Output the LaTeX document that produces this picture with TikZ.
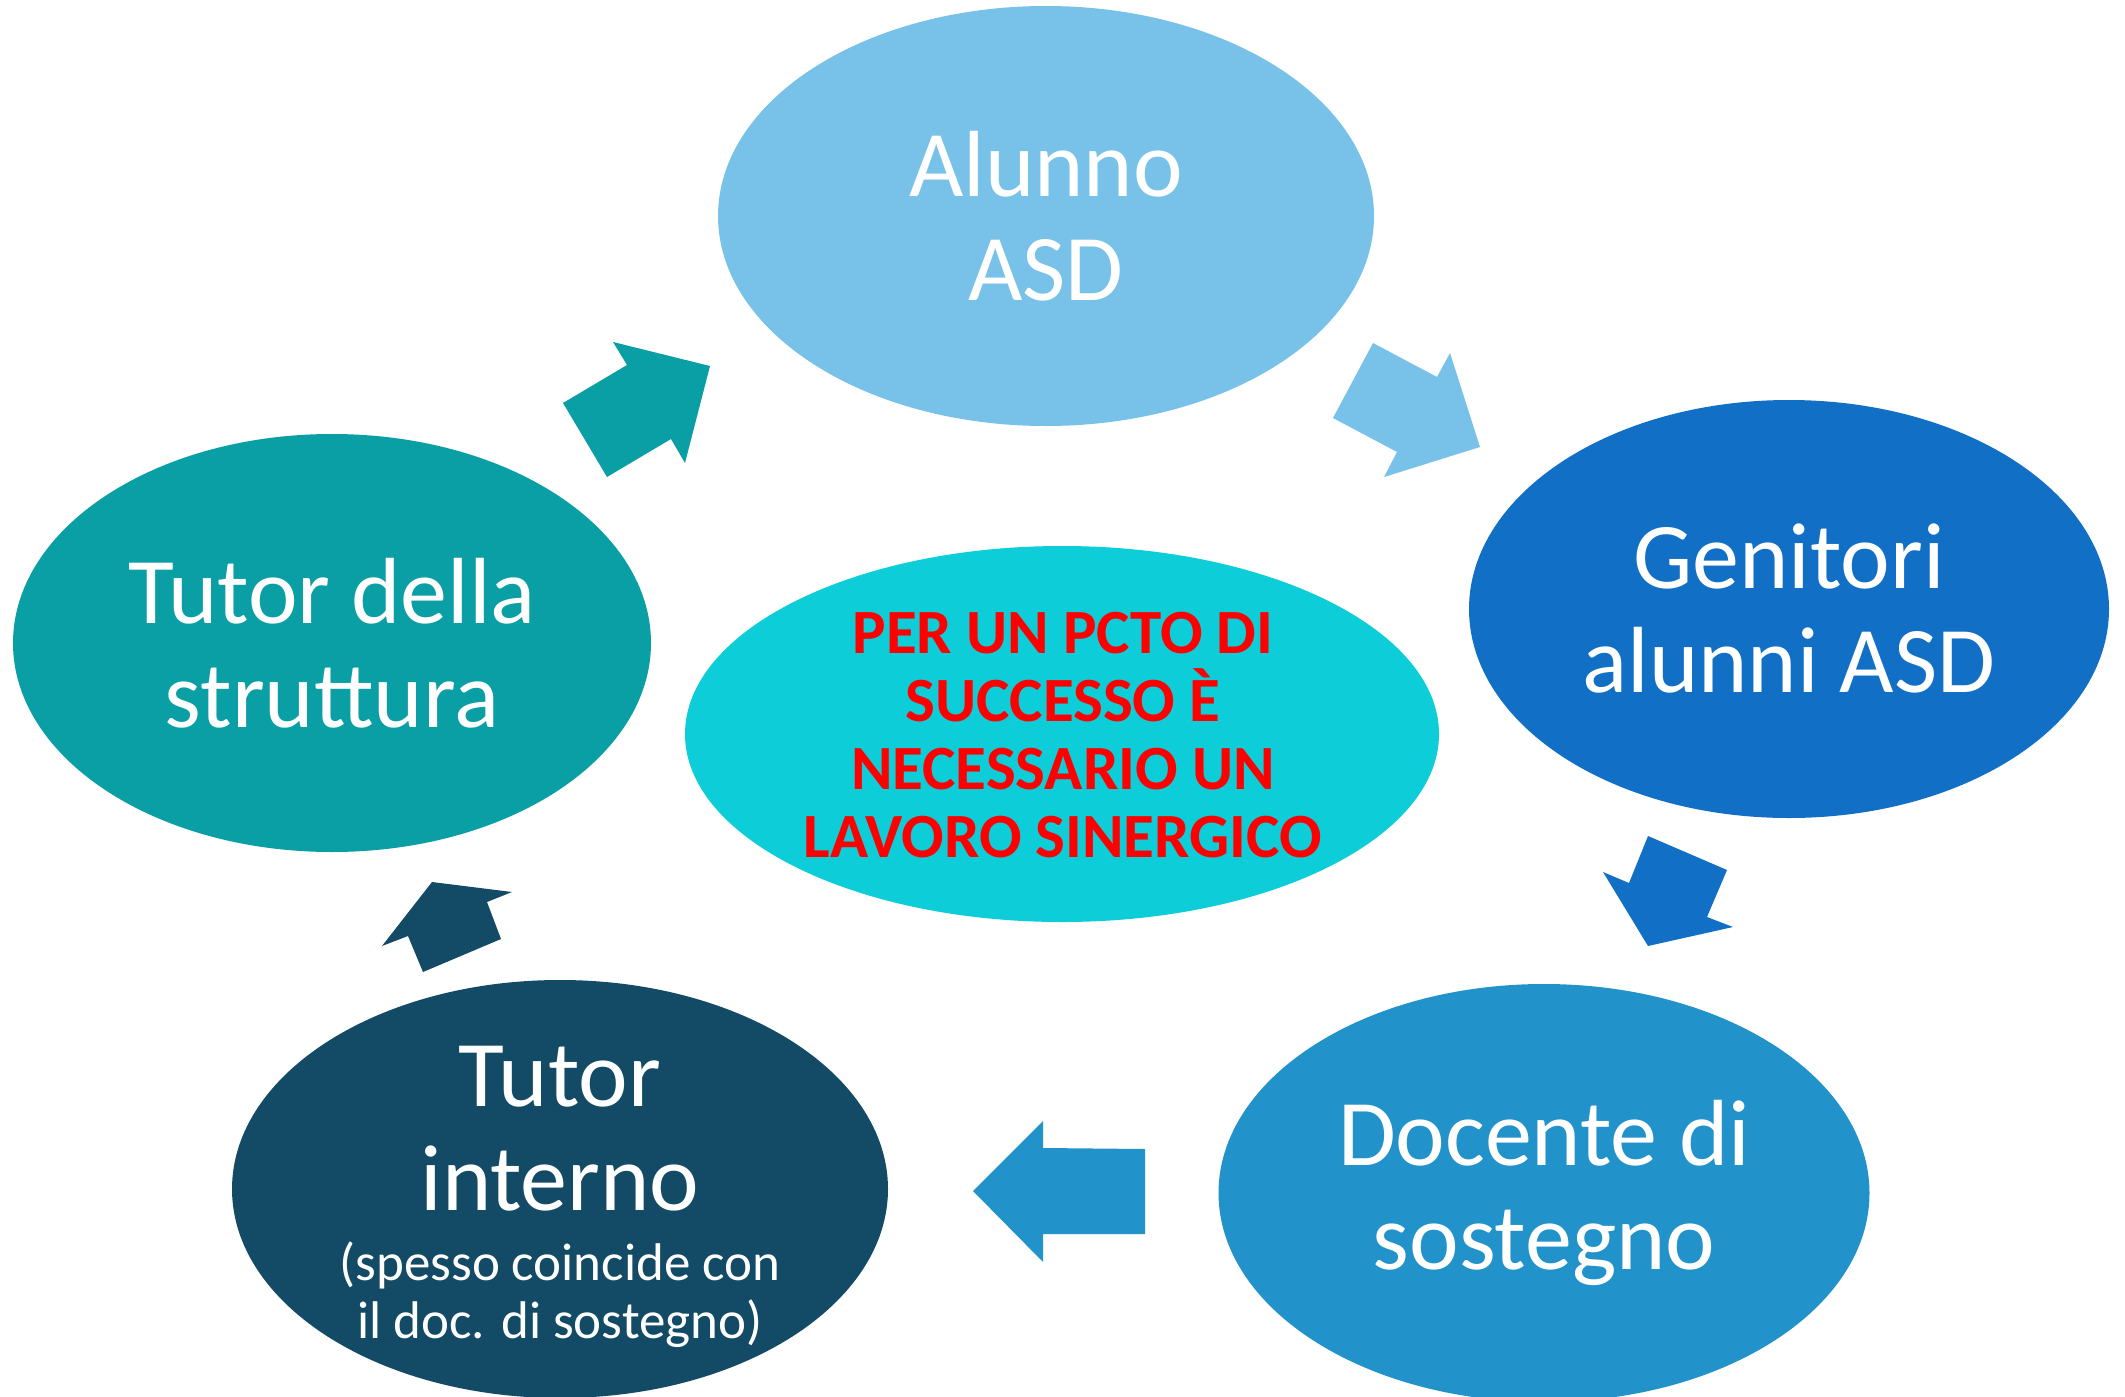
\documentclass[tikz,border=0pt]{standalone}
\usepackage{fontspec}
\setmainfont{Carlito}
\usetikzlibrary{shapes.geometric}
\definecolor{cAlunno}{HTML}{78C1E8}
\definecolor{cGenitori}{HTML}{1170C6}
\definecolor{cDocente}{HTML}{2292CA}
\definecolor{cInterno}{HTML}{134A65}
\definecolor{cStruttura}{HTML}{0A9EA5}
\definecolor{cCentro}{HTML}{0CCDD8}
\definecolor{cRosso}{HTML}{FF0000}
\tikzset{
  blob/.style={ellipse, inner sep=0pt, text=white, align=center,
    font=\fontsize{94}{104}\selectfont},
  bigline/.style={anchor=base, inner sep=0pt, text=white, font=\fontsize{94}{104}\selectfont},
  smallline/.style={anchor=base, inner sep=0pt, text=white, font=\fontsize{53}{58}\selectfont},
  redline/.style={anchor=base, inner sep=0pt, text=cRosso, font=\bfseries\fontsize{63}{68}\selectfont}
}
\begin{document}
\begin{tikzpicture}[x=1pt,y=-1pt]
\useasboundingbox (0,0) rectangle (2125,1397);
\fill[white] (0,0) rectangle (2125,1397);
\begin{scope}
\clip (0,0) rectangle (2125,1397);
\node[blob, fill=cAlunno, minimum width=656pt, minimum height=420pt] (alunno) at (1046,216) {Alunno\\ASD};
\node[blob, fill=cGenitori, minimum width=640pt, minimum height=418pt] (genitori) at (1789,609) {Genitori\\alunni ASD};
\node[blob, fill=cDocente, minimum width=651pt, minimum height=418pt] (docente) at (1544,1193) {Docente di\\sostegno};
\node[blob, fill=cInterno, minimum width=656pt, minimum height=418pt] (interno) at (560,1189) {};
\node[bigline] (int1) at (560,1106) {Tutor};
\node[bigline] (int2) at (560,1210) {interno};
\node[smallline] (int3) at (560,1280) {(spesso coincide con};
\node[smallline] (int4) at (560,1338) {il doc. di sostegno)};
\node[blob, fill=cStruttura, minimum width=638pt, minimum height=418pt] (struttura) at (332,643) {Tutor della\\struttura};
\node[ellipse, inner sep=0pt, fill=cCentro, minimum width=754pt, minimum height=376pt] (centro) at (1062,734) {};
\node[redline] (c1) at (1063,653) {PER UN PCTO DI};
\node[redline] (c2) at (1063,721) {SUCCESSO È};
\node[redline] (c3) at (1063,789) {NECESSARIO UN};
\node[redline] (c4) at (1063,857) {LAVORO SINERGICO};
\end{scope}
\fill[cStruttura] (563,403) -- (607,477) -- (671,439) -- (685,463) -- (710,366) -- (613,342) -- (627,365) -- cycle;
\fill[cAlunno] (1373,343) -- (1333,418) -- (1397,452) -- (1384,477) -- (1480,447) -- (1450,353) -- (1437,377) -- cycle;
\fill[cGenitori] (1648,836) -- (1727,870) -- (1707,917) -- (1733,927) -- (1648,946) -- (1603,872) -- (1629,883) -- cycle;
\fill[cDocente] (1145,1149) -- (1043,1148) -- (1043,1121) -- (973,1191) -- (1043,1262) -- (1043,1234) -- (1145,1234) -- cycle;
\fill[cInterno] (423,972) -- (501,939) -- (487,902) -- (512,892) -- (432,882) -- (382,946) -- (408,936) -- cycle;
\end{tikzpicture}
\end{document}
